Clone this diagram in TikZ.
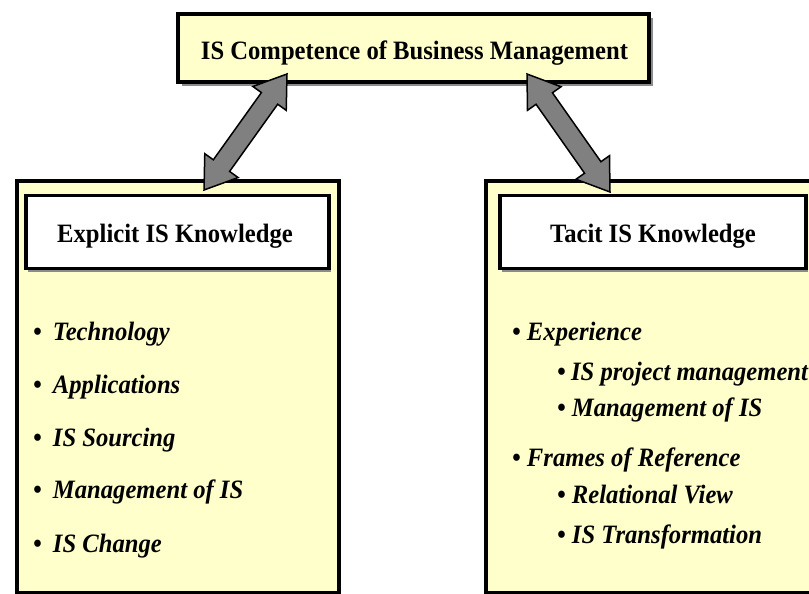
\documentclass[tikz,border=0pt]{standalone}
\usepackage{fontspec}
\setmainfont[FakeStretch=0.93]{Liberation Serif}
\usetikzlibrary{calc,shadows}
\definecolor{boxyellow}{HTML}{FFFFCC}
\definecolor{arrowgray}{HTML}{808080}
\definecolor{shadowgray}{HTML}{8C8C8C}
\begin{document}
\begin{tikzpicture}[x=1pt,y=-1pt,
  ybox/.style={draw=black,line width=3.5pt,fill=boxyellow,rectangle,inner sep=0pt},
  wbox/.style={draw=black,line width=3.5pt,fill=white,rectangle,inner sep=0pt,
    drop shadow={shadow xshift=2pt,shadow yshift=-4pt,fill=shadowgray,opacity=1}},
  tbox/.style={draw=black,line width=3.5pt,fill=boxyellow,rectangle,inner sep=0pt,
    drop shadow={shadow xshift=4pt,shadow yshift=-4pt,fill=shadowgray,opacity=1}},
  headtxt/.style={anchor=base,inner sep=0pt,font=\fontsize{26.5}{30}\selectfont\bfseries},
  itemtxt/.style={anchor=base west,inner sep=0pt,font=\fontsize{26.5}{31}\selectfont\bfseries\itshape},
  blockarrow/.style={draw=black,line width=1.5pt,fill=arrowgray,line join=miter}
]
\useasboundingbox (0,0) rectangle (809,594);
\fill[white] (0,0) rectangle (809,594);

% yellow container boxes
\node[ybox,minimum width=322pt,minimum height=412pt,anchor=north west] (leftbox) at (15,179) {};
\node[ybox,minimum width=336pt,minimum height=412pt,anchor=north west] (rightbox) at (484,179) {};

% white heading boxes
\node[wbox,minimum width=303pt,minimum height=73pt,anchor=north west] (lefthead) at (24,193.5) {};
\node[wbox,minimum width=306pt,minimum height=73pt,anchor=north west] (righthead) at (498,193.5) {};
\node[headtxt] (lefthtxt) at (175,242) {Explicit IS Knowledge};
\node[headtxt] (righthtxt) at (653,242) {Tacit IS Knowledge};

% top box
\node[tbox,minimum width=471pt,minimum height=68pt] (top) at (413.5,48) {};
\node[headtxt] (toptxt) at (414.5,60) {IS Competence of Business Management};

% left items
\node[itemtxt] (l1) at (33,340) {\textbullet\hspace{0.42em}Technology};
\node[itemtxt] (l2) at (33,393) {\textbullet\hspace{0.42em}Applications};
\node[itemtxt] (l3) at (33,446) {\textbullet\hspace{0.42em}IS Sourcing};
\node[itemtxt] (l4) at (33,498) {\textbullet\hspace{0.42em}Management of IS};
\node[itemtxt] (l5) at (33,552) {\textbullet\hspace{0.42em}IS Change};

% right items
\node[itemtxt] (r1) at (512,340) {\textbullet\ Experience};
\node[itemtxt] (r2) at (557,380) {\textbullet\hspace{0.2em}IS project management};
\node[itemtxt] (r3) at (557,416) {\textbullet\ Management of IS};
\node[itemtxt] (r4) at (512,466) {\textbullet\ Frames of Reference};
\node[itemtxt] (r5) at (557,503) {\textbullet\ Relational View};
\node[itemtxt] (r6) at (557,543) {\textbullet\ IS Transformation};

% double block arrows
\coordinate (a1top) at (287,74);
\coordinate (a1bot) at (204,190);
\coordinate (a2top) at (527,74);
\coordinate (a2bot) at (610,192);
\foreach \P/\Q in {a1top/a1bot,a2top/a2bot}{
  \coordinate (pH) at ($(\P)!30pt!(\Q)$);
  \coordinate (qH) at ($(\Q)!30pt!(\P)$);
  \draw[blockarrow] (\P)
    -- ($(pH)!20.5pt!90:(\Q)$) -- ($(pH)!10pt!90:(\Q)$)
    -- ($(qH)!10pt!-90:(\P)$) -- ($(qH)!20.5pt!-90:(\P)$)
    -- (\Q)
    -- ($(qH)!20.5pt!90:(\P)$) -- ($(qH)!10pt!90:(\P)$)
    -- ($(pH)!10pt!-90:(\Q)$) -- ($(pH)!20.5pt!-90:(\Q)$)
    -- cycle;
}
\end{tikzpicture}
\end{document}
